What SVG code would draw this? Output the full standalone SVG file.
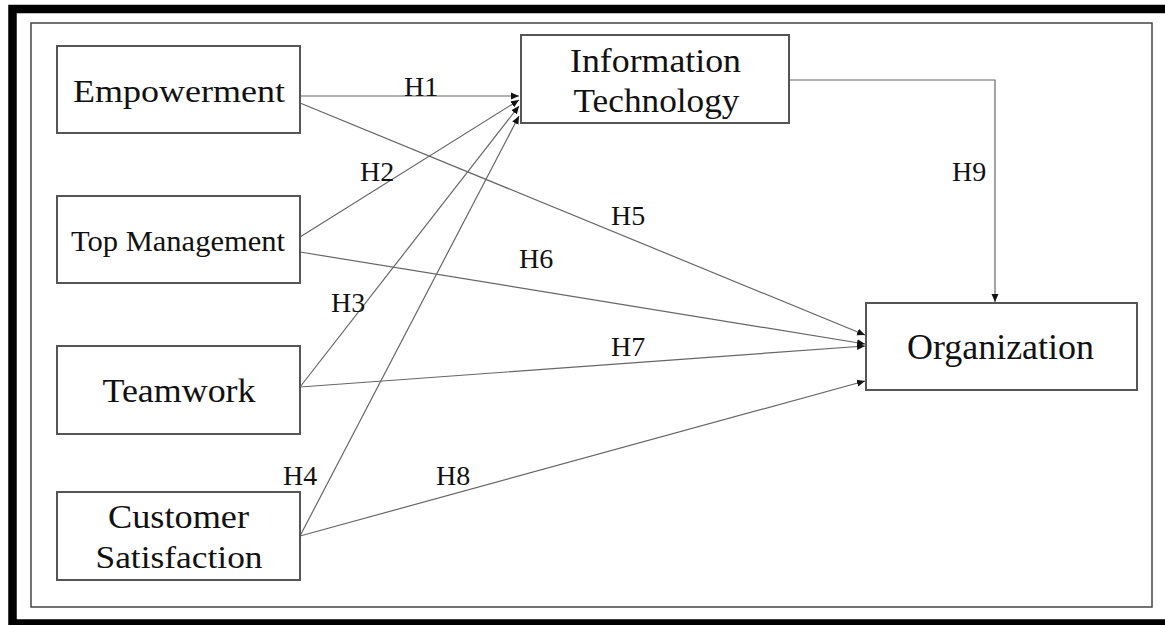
<svg xmlns="http://www.w3.org/2000/svg" width="1165" height="625" viewBox="0 0 1165 625">
<style>
.node rect{fill:#fff;stroke:#555;stroke-width:2}
.nt{font-family:"Liberation Serif","Times New Roman",serif;font-size:32px;fill:#111;text-anchor:middle}
.lb{font-family:"Liberation Serif","Times New Roman",serif;font-size:28px;fill:#111}
.conn{fill:none;stroke:#666;stroke-width:1.2;marker-end:url(#arr)}
</style>
<defs>
<marker id="arr" markerUnits="userSpaceOnUse" markerWidth="9" markerHeight="8" refX="8" refY="4" orient="auto">
<path d="M0,0.5 L8,4 L0,7.5 z" fill="#111"/>
</marker>
</defs>
<rect x="0" y="0" width="1165" height="625" fill="#fff"/>
<rect x="12.5" y="9" width="1170" height="614.5" fill="none" stroke="#000" stroke-width="8.5"/>
<rect x="31" y="23" width="1121" height="584" fill="none" stroke="#444" stroke-width="1.5"/>

<g id="connectors">
<path class="conn" d="M300,96 L519,96"/>
<path class="conn" d="M300,237 L519,100"/>
<path class="conn" d="M300,387 L519,106"/>
<path class="conn" d="M300,536 L519,116"/>
<path class="conn" d="M300,103 L865,335"/>
<path class="conn" d="M300,252 L865,344"/>
<path class="conn" d="M300,387 L865,346"/>
<path class="conn" d="M300,536 L865,381"/>
<path class="conn" d="M789,80 L995,80 L995,302"/>
</g>

<g id="labels">
<text class="lb" x="404" y="96">H1</text>
<text class="lb" x="360" y="181">H2</text>
<text class="lb" x="331" y="312">H3</text>
<text class="lb" x="283" y="485">H4</text>
<text class="lb" x="611" y="225">H5</text>
<text class="lb" x="519" y="268">H6</text>
<text class="lb" x="611" y="356">H7</text>
<text class="lb" x="436" y="485">H8</text>
<text class="lb" x="952" y="181">H9</text>
</g>

<g id="empowerment" class="node">
<rect x="57" y="46" width="243" height="87"/>
<text class="nt" x="179" y="102" textLength="212" lengthAdjust="spacingAndGlyphs" style="font-size:31px">Empowerment</text>
</g>
<g id="top-management" class="node">
<rect x="57" y="196" width="243" height="87"/>
<text class="nt" x="178" y="251" textLength="214" lengthAdjust="spacingAndGlyphs" style="font-size:29px">Top Management</text>
</g>
<g id="teamwork" class="node">
<rect x="57" y="346" width="243" height="88"/>
<text class="nt" x="179" y="402" textLength="153" lengthAdjust="spacingAndGlyphs" style="font-size:33px">Teamwork</text>
</g>
<g id="customer-satisfaction" class="node">
<rect x="57" y="492" width="243" height="88"/>
<text class="nt" x="178.5" y="528" textLength="141" lengthAdjust="spacingAndGlyphs" style="font-size:33px">Customer</text>
<text class="nt" x="179" y="568" textLength="167" lengthAdjust="spacingAndGlyphs" style="font-size:32px">Satisfaction</text>
</g>
<g id="information-technology" class="node">
<rect x="521" y="35" width="268" height="88"/>
<text class="nt" x="655.5" y="72" textLength="171" lengthAdjust="spacingAndGlyphs" style="font-size:33px">Information</text>
<text class="nt" x="656.5" y="112" textLength="166" lengthAdjust="spacingAndGlyphs" style="font-size:33px">Technology</text>
</g>
<g id="organization" class="node">
<rect x="866" y="303" width="271" height="87"/>
<text class="nt" x="1000.5" y="359" textLength="187" lengthAdjust="spacingAndGlyphs" style="font-size:35px">Organization</text>
</g>
</svg>
